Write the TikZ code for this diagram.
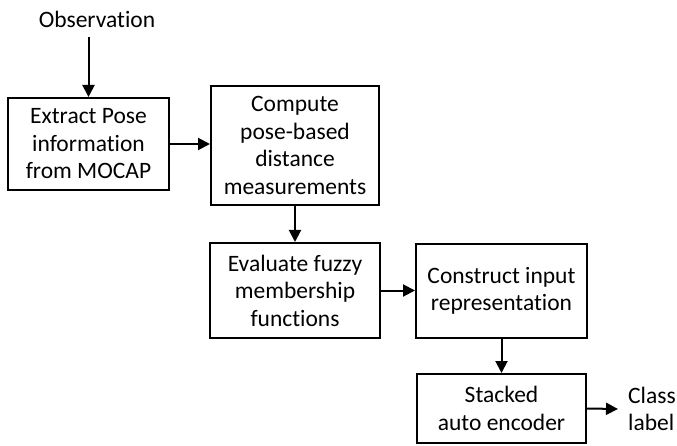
\documentclass[tikz,border=0pt]{standalone}
\usepackage{fontspec}
\setmainfont{Carlito}[Ligatures={NoCommon}]
\usetikzlibrary{arrows.meta}
\begin{document}
\begin{tikzpicture}[x=1pt,y=-1pt,
  every node/.style={font=\fontsize{23.5}{27.5}\selectfont, align=center},
  stage/.style={draw, line width=2pt, inner sep=0pt},
  flow/.style={line width=2pt, -{Triangle[length=12pt,width=12pt]}}]
  \useasboundingbox (0,0) rectangle (677,446);
  % processing stages
  \node[stage, minimum width=161pt, minimum height=92pt]  (pose)   at (88.5,144)   {Extract Pose\\information\\from MOCAP};
  \node[stage, minimum width=168pt, minimum height=119pt] (dist)   at (295,145.5)  {Compute\\pose-based\\distance\\measurements};
  \node[stage, minimum width=170pt, minimum height=95pt]  (fuzzy)  at (295,290.5)  {Evaluate fuzzy\\membership\\functions};
  \node[stage, minimum width=171pt, minimum height=94pt]  (input)  at (501.5,291)  {Construct input\\representation};
  \node[stage, minimum width=169pt, minimum height=69pt]  (sae)    at (501.5,408.5){Stacked\\auto encoder};
  % input and output labels
  \node[inner sep=0pt] (obs) at (97,19) {Observation};
  \coordinate (obsfoot) at (88.5,37);
  \node[anchor=west, align=left, inner xsep=10pt, inner ysep=0pt] (cls) at (618,409) {Class\\label};
  % connectors
  \draw[flow] (obsfoot) -- (pose.north);
  \draw[flow] (pose.east) -- (pose.east -| dist.west);
  \draw[flow] (dist.south) -- (fuzzy.north);
  \draw[flow] (fuzzy.east) -- (fuzzy.east -| input.west);
  \draw[flow] (input.south) -- (sae.north);
  \draw[flow] (sae.east) -- (cls.west);
\end{tikzpicture}
\end{document}
